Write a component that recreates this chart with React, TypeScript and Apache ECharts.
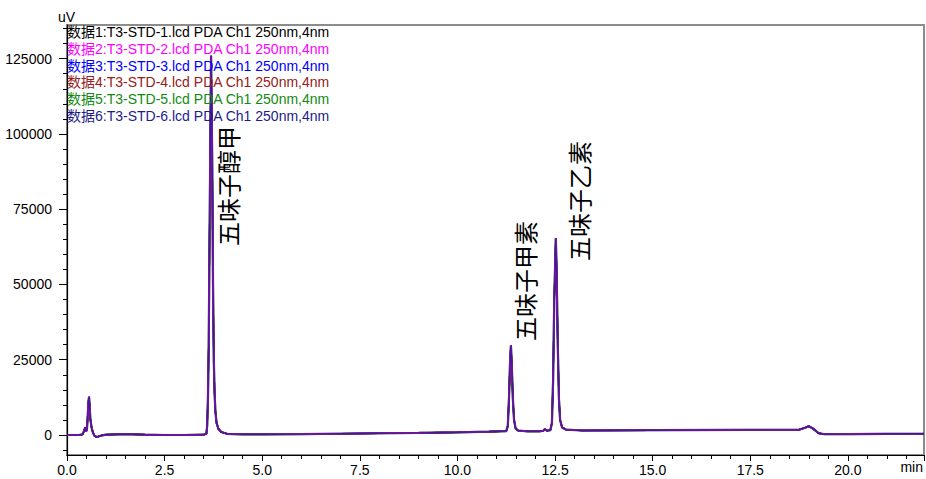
import React, { useEffect, useRef } from "react";
import * as echarts from "echarts";

// Retention time (min) and detector response (uV)
const retentionTime = [
  0, 0.3, 0.4, 0.44, 0.47, 0.49, 0.51, 0.53, 0.55, 0.565, 0.58, 0.6, 0.63, 0.66, 0.7, 0.75, 0.8, 0.9, 1.0, 1.5, 2.0, 2.5, 3.0,
  3.5, 3.57, 3.59, 3.61, 3.63, 3.66, 3.69, 3.72, 3.74, 3.76, 3.78, 3.8, 3.83, 3.88, 3.95, 4.1, 4.5, 5.0, 6.0, 7.5, 9.0, 10.0,
  10.8, 11.25, 11.29, 11.32, 11.35, 11.37, 11.39, 11.42, 11.45, 11.49, 11.55, 11.8, 12.1, 12.2, 12.24, 12.29, 12.38, 12.42,
  12.45, 12.48, 12.52, 12.54, 12.57, 12.6, 12.63, 12.68, 12.78, 13.2, 15.0, 17.5, 18.75, 18.9, 19.0, 19.1, 19.25, 19.4, 20.0,
  21.0, 21.95,
];
const response = [
  0, 0, 200, 1500, 2600, 1200, 1800, 6000, 11000, 12700, 9500, 5000, 2500, 1000, -200, -600, -500, -100, 100, 300, 100, 0, 0,
  100, 400, 3000, 12000, 30000, 80000, 126000, 90000, 50000, 25000, 14000, 8000, 4000, 2000, 1000, 400, 200, 200, 300, 500,
  700, 900, 1100, 1300, 3000, 12000, 25000, 29700, 24000, 12000, 5000, 2200, 1500, 1200, 1200, 1400, 2000, 1400, 1600, 4000,
  18000, 45000, 65400, 55000, 30000, 12000, 5000, 2500, 1800, 1500, 1600, 1700, 1750, 2400, 2900, 2200, 600, 250, 300, 400,
  400,
];

const traceNames = [
  "数据1:T3-STD-1.lcd PDA Ch1 250nm,4nm",
  "数据2:T3-STD-2.lcd PDA Ch1 250nm,4nm",
  "数据3:T3-STD-3.lcd PDA Ch1 250nm,4nm",
  "数据4:T3-STD-4.lcd PDA Ch1 250nm,4nm",
  "数据5:T3-STD-5.lcd PDA Ch1 250nm,4nm",
  "数据6:T3-STD-6.lcd PDA Ch1 250nm,4nm",
];
const traceColors = ["#000000", "#ff00ff", "#0000ff", "#962020", "#118a11", "#1c1c8c"];

const peakNames = ["五味子醇甲", "五味子甲素", "五味子乙素"];

const yMajorTicks = [0, 25000, 50000, 75000, 100000, 125000];
const yMinorTicks = [
  -5000, 5000, 10000, 15000, 20000, 30000, 35000, 40000, 45000, 55000, 60000, 65000, 70000, 80000, 85000, 90000, 95000,
  105000, 110000, 115000, 120000, 130000, 135000,
];

const FONT = "'Liberation Sans', Arial, 'Noto Sans CJK SC', sans-serif";

export default function App() {
  const ref = useRef<HTMLDivElement>(null);

  useEffect(() => {
    if (!ref.current) return;
    const chart = echarts.init(ref.current, undefined, { renderer: "svg" });
    const data = retentionTime.map((t, i) => [t, response[i]]);
    const yMin = -6643;
    const yMax = 136177;

    const drawOrder = [0, 2, 4, 3, 1, 5];
    const series = drawOrder.map((idx) => ({
      type: "line",
      name: traceNames[idx],
      data,
      showSymbol: false,
      symbol: "none",
      xAxisIndex: 0,
      yAxisIndex: 0,
      lineStyle: {
        color: traceColors[idx],
        width: idx === 0 ? 2.2 : 1.4,
        opacity: idx === 5 ? 0.82 : 1,
      },
      z: 3,
    }));

    const labelPos = [
      [227, 246],
      [524, 341],
      [578, 261],
    ];

    const graphics: any[] = [
      ...traceNames.map((name, i) => ({
        type: "text",
        x: 67,
        y: 32 + i * 16.75,
        z: 10,
        style: {
          text: name,
          fill: traceColors[i],
          font: `14px ${FONT}`,
          textAlign: "left",
          textVerticalAlign: "middle",
          verticalAlign: "middle",
        },
      })),
      ...peakNames.map((name, i) => ({
        type: "text",
        x: labelPos[i][0],
        y: labelPos[i][1],
        rotation: Math.PI / 2,
        z: 10,
        style: {
          text: name,
          fill: "#000",
          font: `24px 'Noto Sans CJK SC', sans-serif`,
          textAlign: "left",
          verticalAlign: "middle",
          textVerticalAlign: "middle",
        },
      })),
      {
        type: "text",
        x: 58,
        y: 17,
        style: { text: "uV", fill: "#000", font: `14px ${FONT}`, textAlign: "left", verticalAlign: "middle" },
      },
      {
        type: "text",
        x: 923,
        y: 467,
        style: { text: "min", fill: "#000", font: `14px ${FONT}`, textAlign: "right", verticalAlign: "middle" },
      },
    ];

    chart.setOption({
      animation: false,
      backgroundColor: "#ffffff",
      grid: {
        left: 67,
        right: 2,
        top: 25,
        bottom: 24,
        show: true,
        borderColor: "#8c8c8c",
        borderWidth: 2,
        backgroundColor: "transparent",
      },
      xAxis: [
        {
          type: "value",
          min: 0,
          max: 21.95,
          interval: 2.5,
          axisLine: { show: true, onZero: false, lineStyle: { color: "#000", width: 1.2 } },
          axisTick: { show: true, length: 6, lineStyle: { color: "#000" } },
          minorTick: { show: true, splitNumber: 5, length: 4, lineStyle: { color: "#000" } },
          splitLine: { show: false },
          axisLabel: {
            color: "#000",
            fontSize: 14,
            fontFamily: FONT,
            margin: 8,
            showMaxLabel: false,
            formatter: (v: number) => (v > 21 ? "" : v.toFixed(1)),
          },
        },
      ],
      yAxis: [
        {
          type: "value",
          min: yMin,
          max: yMax,
          axisLine: { show: true, onZero: false, lineStyle: { color: "#000", width: 1.2 } },
          axisTick: { show: true, length: 8, customValues: yMajorTicks, lineStyle: { color: "#000" } },
          splitLine: { show: false },
          axisLabel: {
            color: "#000",
            fontSize: 14,
            fontFamily: FONT,
            margin: 15,
            customValues: yMajorTicks,
            formatter: (v: number) => String(Math.round(v)),
          },
        },
        {
          type: "value",
          min: yMin,
          max: yMax,
          position: "left",
          axisLine: { show: false },
          axisTick: { show: true, length: 4, customValues: yMinorTicks, lineStyle: { color: "#000" } },
          axisLabel: { show: false },
          splitLine: { show: false },
        },
      ],
      series,
      graphic: graphics,
    });

    return () => chart.dispose();
  }, []);

  return (
    <div
      ref={ref}
      style={{ position: "fixed", left: 0, top: 0, width: 926, height: 479, margin: 0 }}
    />
  );
}
